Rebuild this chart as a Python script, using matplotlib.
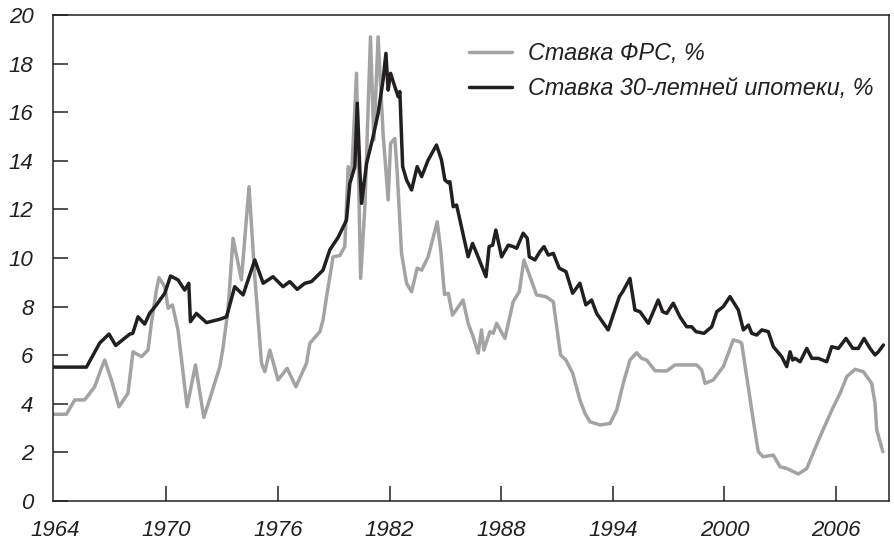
import matplotlib
matplotlib.use("Agg")
import matplotlib.pyplot as plt

# ---- data ----
fed_years = [1963.9, 1964.62, 1965.07, 1965.6, 1966.14, 1966.5, 1966.68, 1967.04, 1967.45, 1967.93,
             1968.2, 1968.66, 1969.01, 1969.19, 1969.46, 1969.6, 1969.91, 1970.09, 1970.32, 1970.62,
             1971.11, 1971.56, 1972.01, 1972.33, 1972.87, 1973.04, 1973.31, 1973.58, 1974.03, 1974.44,
             1974.75, 1975.11, 1975.29, 1975.56, 1976.0, 1976.49, 1976.96, 1977.53, 1977.71, 1978.25,
             1978.42, 1978.61, 1978.96, 1979.32, 1979.59, 1979.77, 1979.95, 1980.22, 1980.44, 1980.67,
             1980.97, 1981.15, 1981.38, 1981.65, 1981.92, 1982.05, 1982.28, 1982.40, 1982.64, 1982.91,
             1983.18, 1983.48, 1983.72, 1984.07, 1984.56, 1984.75, 1984.95, 1985.15, 1985.38, 1985.95,
             1986.22, 1986.49, 1986.76, 1986.94, 1987.07, 1987.39, 1987.57, 1987.75, 1988.20, 1988.64,
             1988.97, 1989.22, 1989.45, 1989.90, 1990.40, 1990.80, 1991.19, 1991.48, 1991.84, 1992.23,
             1992.50, 1992.77, 1993.31, 1993.85, 1994.21, 1994.56, 1994.92, 1995.28, 1995.55, 1995.82,
             1996.27, 1996.90, 1997.34, 1998.51, 1998.78, 1998.96, 1999.40, 1999.94, 2000.21, 2000.48,
             2000.80, 2000.93, 2001.20, 2001.55, 2001.82, 2002.09, 2002.63, 2002.99, 2003.35, 2003.98,
             2004.43, 2005.14, 2005.86, 2006.22, 2006.58, 2007.03, 2007.47, 2007.92, 2008.10, 2008.19,
             2008.52]
fed_rate = [3.57, 3.57, 4.16, 4.16, 4.70, 5.46, 5.80, 4.98, 3.88, 4.43,
            6.14, 5.94, 6.21, 7.31, 8.68, 9.19, 8.82, 7.93, 8.07, 7.04,
            3.88, 5.60, 3.44, 4.20, 5.53, 6.30, 7.86, 10.81, 9.10, 12.93,
            9.23, 5.67, 5.32, 6.21, 4.98, 5.46, 4.70, 5.67, 6.49, 6.97,
            7.45, 8.41, 10.05, 10.10, 10.47, 13.76, 13.35, 17.60, 9.16, 12.11,
            19.10, 14.86, 19.10, 15.10, 12.39, 14.72, 14.92, 13.62, 10.19, 8.96,
            8.61, 9.58, 9.50, 10.05, 11.49, 10.30, 8.50, 8.55, 7.65, 8.27,
            7.31, 6.76, 6.08, 7.04, 6.21, 6.97, 6.90, 7.31, 6.69, 8.20,
            8.61, 9.92, 9.44, 8.48, 8.41, 8.20, 6.01, 5.80, 5.26, 4.16,
            3.61, 3.26, 3.13, 3.19, 3.74, 4.84, 5.80, 6.10, 5.87, 5.80,
            5.36, 5.35, 5.60, 5.60, 5.39, 4.84, 4.98, 5.53, 6.08, 6.63,
            6.56, 6.49, 5.12, 3.33, 2.03, 1.82, 1.89, 1.41, 1.34, 1.11,
            1.34, 2.65, 3.88, 4.43, 5.12, 5.42, 5.32, 4.84, 4.02, 2.92,
            2.03]

mort_years = [1963.9, 1965.70, 1966.41, 1966.91, 1967.27, 1968.03, 1968.19, 1968.47, 1968.83, 1969.10,
              1969.46, 1969.91, 1970.22, 1970.62, 1970.98, 1971.20, 1971.29, 1971.61, 1972.15, 1972.87,
              1973.23, 1973.67, 1974.12, 1974.75, 1975.20, 1975.73, 1976.27, 1976.63, 1977.03, 1977.44,
              1977.80, 1978.42, 1978.78, 1979.23, 1979.68, 1979.86, 1980.13, 1980.26, 1980.40, 1980.49,
              1980.76, 1981.11, 1981.38, 1981.65, 1981.80, 1981.92, 1982.05, 1982.28, 1982.46, 1982.55,
              1982.70, 1982.91, 1983.18, 1983.48, 1983.72, 1984.07, 1984.52, 1984.79, 1984.97, 1985.15,
              1985.24, 1985.42, 1985.60, 1986.22, 1986.46, 1986.68, 1987.18, 1987.35, 1987.54, 1987.71,
              1988.02, 1988.38, 1988.64, 1988.83, 1989.18, 1989.40, 1989.51, 1989.81, 1990.08, 1990.30,
              1990.53, 1990.80, 1991.12, 1991.48, 1991.84, 1992.23, 1992.55, 1992.86, 1993.13, 1993.75,
              1994.35, 1994.53, 1994.92, 1995.19, 1995.46, 1995.91, 1996.44, 1996.68, 1996.90, 1997.25,
              1997.61, 1997.97, 1998.24, 1998.47, 1998.90, 1999.32, 1999.59, 1999.94, 2000.30, 2000.75,
              2001.02, 2001.29, 2001.47, 2001.74, 2002.01, 2002.36, 2002.63, 2003.08, 2003.35, 2003.53,
              2003.67, 2003.80, 2004.07, 2004.43, 2004.70, 2005.05, 2005.50, 2005.77, 2006.13, 2006.54,
              2006.90, 2007.20, 2007.51, 2007.83, 2008.10, 2008.28, 2008.55]
mort_rate = [5.51, 5.51, 6.50, 6.87, 6.40, 6.87, 6.90, 7.58, 7.28, 7.73,
             8.07, 8.55, 9.26, 9.10, 8.68, 8.96, 7.38, 7.72, 7.34, 7.48,
             7.58, 8.82, 8.48, 9.92, 8.96, 9.23, 8.82, 9.03, 8.71, 8.96,
             9.03, 9.50, 10.33, 10.85, 11.56, 13.07, 13.76, 16.37, 13.62, 12.25,
             13.89, 14.99, 15.95, 17.33, 18.42, 16.91, 17.60, 17.05, 16.64, 16.85,
             13.76, 13.21, 12.80, 13.76, 13.35, 14.03, 14.65, 14.03, 13.21, 13.10,
             13.14, 12.11, 12.18, 10.05, 10.60, 10.19, 9.23, 10.47, 10.53, 11.15,
             10.05, 10.53, 10.47, 10.40, 11.02, 10.81, 10.05, 9.92, 10.26, 10.47,
             10.12, 10.19, 9.58, 9.44, 8.55, 8.96, 8.07, 8.27, 7.72, 7.04,
             8.41, 8.61, 9.16, 7.86, 7.79, 7.31, 8.27, 7.79, 7.72, 8.14,
             7.58, 7.17, 7.17, 6.97, 6.90, 7.17, 7.79, 8.00, 8.41, 7.86,
             7.04, 7.24, 6.90, 6.83, 7.04, 6.97, 6.35, 5.94, 5.53, 6.14,
             5.80, 5.87, 5.73, 6.28, 5.87, 5.87, 5.73, 6.35, 6.28, 6.69,
             6.28, 6.28, 6.69, 6.28, 6.01, 6.14, 6.42]

x_ticks = [1964, 1970, 1976, 1982, 1988, 1994, 2000, 2006]
y_ticks = [0, 2, 4, 6, 8, 10, 12, 14, 16, 18, 20]
labels = ["Ставка ФРС, %", "Ставка 30-летней ипотеки, %"]

# ---- style ----
ink = "#231f20"
plt.rcParams["font.family"] = ["Liberation Sans", "DejaVu Sans"]
plt.rcParams["font.style"] = "italic"

fig = plt.figure(figsize=(8.94, 5.43), dpi=100)
ax = fig.add_axes([53 / 894, 42 / 543, 836 / 894, 486 / 543])

ax.plot(fed_years, fed_rate, color="#a3a3a3", lw=2.5, solid_joinstyle="round",
        solid_capstyle="round", label=labels[0])
ax.plot(mort_years, mort_rate, color=ink, lw=2.5, solid_joinstyle="round",
        solid_capstyle="round", label=labels[1])

ax.set_xlim(1963.9, 2008.85)
ax.set_ylim(0, 20)
ax.set_xticks(x_ticks)
ax.set_yticks(y_ticks)
ax.set_xticklabels([str(t) for t in x_ticks])
ax.set_yticklabels([str(t) for t in y_ticks])

ax.tick_params(axis="both", direction="in", length=11, width=1.1, color=ink,
               labelsize=16, labelcolor=ink)
ax.tick_params(axis="y", pad=14)
ax.tick_params(axis="x", pad=14)
ax.xaxis.get_major_ticks()[0].tick1line.set_visible(False)
for lab in ax.get_xticklabels() + ax.get_yticklabels():
    lab.set_fontstyle("italic")
for s in ax.spines.values():
    s.set_color(ink)
    s.set_linewidth(1.1)

leg = ax.legend(loc="upper left", bbox_to_anchor=(0.4976, 0.944), frameon=False,
                borderpad=0, borderaxespad=0, handlelength=1.85, handletextpad=0.69,
                labelspacing=0.5, prop={"size": 16.8, "style": "italic"})
for t in leg.get_texts():
    t.set_color(ink)

fig.savefig("out.png", dpi=100)
